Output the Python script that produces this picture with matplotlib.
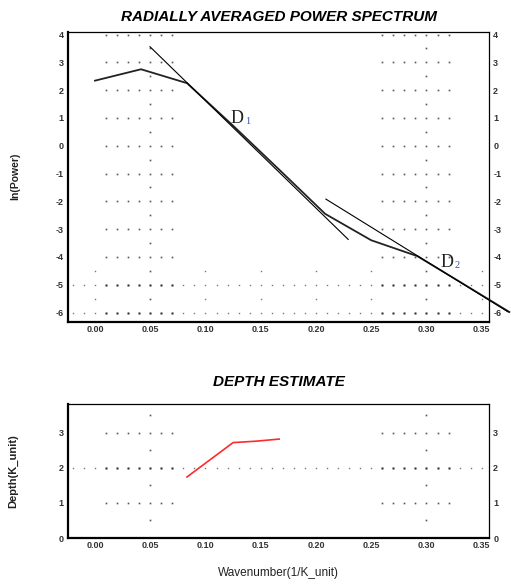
import matplotlib
matplotlib.use("Agg")
import matplotlib.pyplot as plt
import numpy as np

# wavenumber samples (1/K_unit)
wavenumber = [0.0, 0.0417, 0.0833, 0.125, 0.1667, 0.2083, 0.25, 0.2917, 0.3333, 0.375]
ln_power = [2.34, 2.75, 2.25, 0.72, -0.86, -2.45, -3.4, -3.97, -4.97, -5.98]

# fitted segments
fit1_x = [0.0498, 0.2292]
fit1_y = [3.56, -3.37]
fit2_x = [0.209, 0.374]
fit2_y = [-1.92, -5.98]

depth_x = [0.0833, 0.125, 0.1458, 0.1667]
depth_y = [1.74, 2.72, 2.76, 2.82]

xticks = [0.0, 0.05, 0.10, 0.15, 0.20, 0.25, 0.30, 0.35]
top_yticks = [4, 3, 2, 1, 0, -1, -2, -3, -4, -5, -6]
bot_yticks = [0, 1, 2, 3]

sans = "Liberation Sans"

fig = plt.figure(figsize=(5.11, 5.85), dpi=100)
ax1 = fig.add_axes([68/511, 1-322/585, (489-68)/511, (322-32)/585])
ax2 = fig.add_axes([68/511, 1-538/585, (489-68)/511, (538-404)/585])


def dots(ax, xs, ys, size=1.2, color="#555555"):
    X, Y = np.meshgrid(xs, ys)
    ax.plot(X.ravel(), Y.ravel(), ls="none", marker="s", ms=size, mec="none", mfc=color, zorder=1)


inner_l = np.arange(0.01, 0.0701, 0.01)
inner_r = np.arange(0.26, 0.3201, 0.01)
full = np.arange(-0.02, 0.3501, 0.01)

# top chart grid dots
dots(ax1, np.r_[inner_l, inner_r], [4, 3, 2, 1, 0, -1, -2, -3, -4])
dots(ax1, full, [-5, -6], size=1.0, color="#777777")
dots(ax1, np.r_[inner_l, inner_r], [-5, -6], size=1.6, color="#333333")
dots(ax1, [0.05, 0.30], np.arange(3.5, -6, -1.0))
dots(ax1, [0.0, 0.10, 0.15, 0.20, 0.25, 0.35], [-4.5, -5.5], size=1.0, color="#777777")

# bottom chart grid dots
dots(ax2, np.r_[inner_l, inner_r], [3, 1])
dots(ax2, full, [2], size=1.0, color="#777777")
dots(ax2, np.r_[inner_l, inner_r], [2], size=1.6, color="#333333")
dots(ax2, [0.05, 0.30], [3.5, 2.5, 1.5, 0.5])

ax1.plot(wavenumber, ln_power, color="#222222", lw=1.3, clip_on=False, zorder=3)
ax1.plot(fit1_x, fit1_y, color="black", lw=0.8, clip_on=False, zorder=3)
ax1.plot(fit2_x, fit2_y, color="black", lw=0.8, clip_on=False, zorder=3)

ax1.text(0.123, 0.82, "D", family="Liberation Serif", fontsize=13, color="#222222")
ax1.text(0.1355, 0.78, "1", family="Liberation Serif", fontsize=7.5, color="#3355aa")
ax1.text(0.3128, -4.36, "D", family="Liberation Serif", fontsize=13, color="#222222")
ax1.text(0.3253, -4.40, "2", family="Liberation Serif", fontsize=7.5, color="#3355aa")

ax2.plot(depth_x, depth_y, color="#ff2a2a", lw=1.2, zorder=3)

ax1.set_xlim(-0.0244, 0.3566)
ax1.set_ylim(-6.34, 4.09)
ax2.set_xlim(-0.0244, 0.3566)
ax2.set_ylim(0, 3.82)

for ax, yt in ((ax1, top_yticks), (ax2, bot_yticks)):
    ax.set_xticks(xticks)
    ax.set_xticklabels([f"{v:.2f}" for v in xticks])
    ax.set_yticks(yt)
    ax.set_yticklabels([str(v) for v in yt])
    ax.tick_params(length=0, labelsize=6.5, pad=3, labelright=True, right=False)
    ax.tick_params(axis="x", pad=2)
    for lab in ax.get_xticklabels() + ax.get_yticklabels():
        lab.set_family(sans)
        lab.set_fontweight("bold")
        lab.set_color("#333333")
    for s in ("left", "bottom"):
        ax.spines[s].set_linewidth(1.6)
    for s in ("top", "right"):
        ax.spines[s].set_linewidth(0.9)

ax1.set_title("RADIALLY AVERAGED POWER SPECTRUM", family=sans, fontsize=11,
              fontweight="bold", style="italic", pad=8, x=0.501)
ax2.set_title("DEPTH ESTIMATE", family=sans, fontsize=11,
              fontweight="bold", style="italic", pad=13, x=0.501)

fig.text(15/511, 1-176/585, "ln(Power)", rotation=90, ha="center", va="center",
         family=sans, fontsize=7.5, fontweight="bold", color="#222222")
fig.text(13/511, 1-471/585, "Depth(K_unit)", rotation=90, ha="center", va="center",
         family=sans, fontsize=8, fontweight="bold", color="#222222")
fig.text(278/511, 1-573/585, "Wavenumber(1/K_unit)", ha="center", va="center",
         family=sans, fontsize=8.5, color="#222222")

fig.savefig("out.png", dpi=100)
